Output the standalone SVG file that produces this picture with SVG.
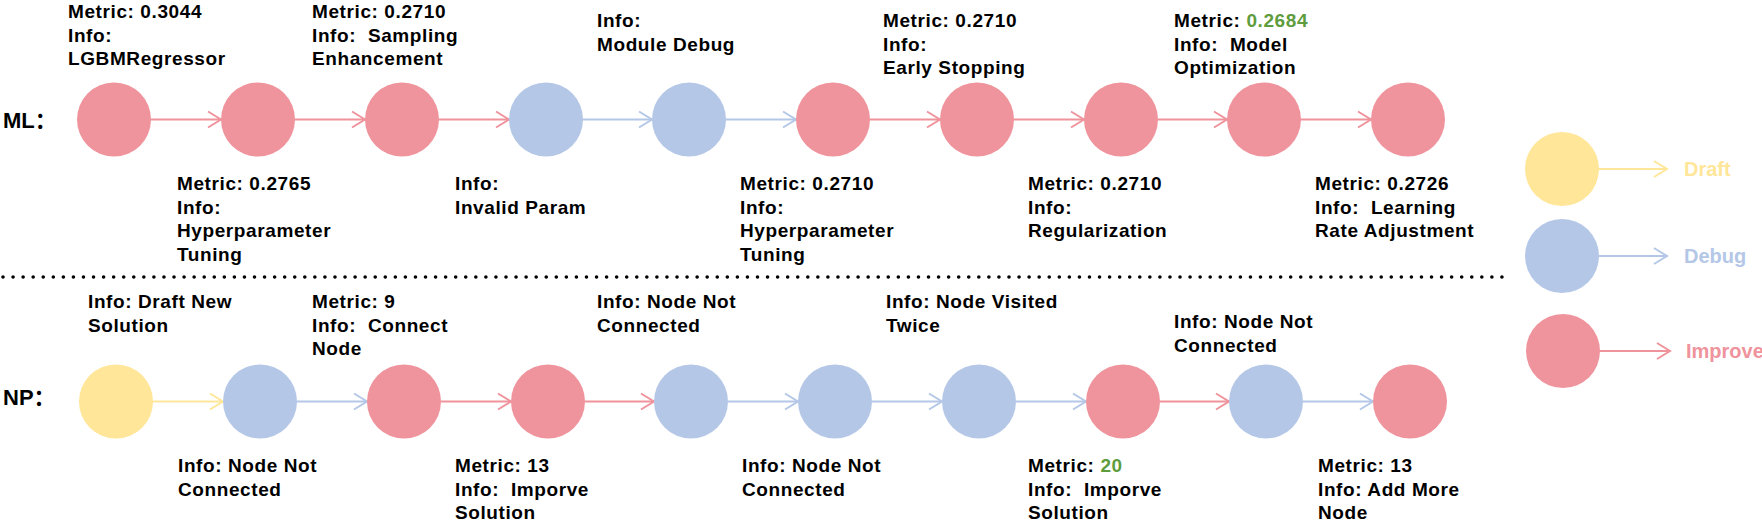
<svg xmlns="http://www.w3.org/2000/svg" width="1762" height="524" viewBox="0 0 1762 524">
<style>
text{font-family:"Liberation Sans",Arial,"Noto Sans CJK SC",sans-serif;font-weight:bold;fill:#000;white-space:pre}
.lbl{font-size:19px;letter-spacing:0.6px}
.row{font-size:22px}
.lg{font-size:20px}
.red{fill:#EF939C}.blue{fill:#B4C7E7}.yel{fill:#FFE699}
.g{fill:#5E9C3D}
.er{stroke:#EF939C;stroke-width:2;fill:none}
.eb{stroke:#B4C7E7;stroke-width:2;fill:none}
.ey{stroke:#FFE699;stroke-width:2;fill:none}
</style>
<defs>
<marker id="ar" markerWidth="16" markerHeight="20" refX="14" refY="10" orient="auto" markerUnits="userSpaceOnUse"><path d="M1,2 L14,10 L1,18" fill="none" stroke="#EF939C" stroke-width="2"/></marker>
<marker id="ab" markerWidth="16" markerHeight="20" refX="14" refY="10" orient="auto" markerUnits="userSpaceOnUse"><path d="M1,2 L14,10 L1,18" fill="none" stroke="#B4C7E7" stroke-width="2"/></marker>
<marker id="ay" markerWidth="16" markerHeight="20" refX="14" refY="10" orient="auto" markerUnits="userSpaceOnUse"><path d="M1,2 L14,10 L1,18" fill="none" stroke="#FFE699" stroke-width="2"/></marker>
</defs>

<text class="row" x="3" y="128">ML：</text>
<text class="row" x="3" y="405">NP：</text>

<line x1="3" y1="277" x2="1512" y2="277" stroke="#000" stroke-width="3.6" stroke-linecap="round" stroke-dasharray="0 10.06"/>

<g id="connectors">
<line class="er" x1="151" y1="119.5" x2="221" y2="119.5" marker-end="url(#ar)"/>
<line class="er" x1="295" y1="119.5" x2="365" y2="119.5" marker-end="url(#ar)"/>
<line class="er" x1="439" y1="119.5" x2="509" y2="119.5" marker-end="url(#ar)"/>
<line class="eb" x1="583" y1="119.5" x2="652" y2="119.5" marker-end="url(#ab)"/>
<line class="eb" x1="726" y1="119.5" x2="796" y2="119.5" marker-end="url(#ab)"/>
<line class="er" x1="870" y1="119.5" x2="940" y2="119.5" marker-end="url(#ar)"/>
<line class="er" x1="1014" y1="119.5" x2="1084" y2="119.5" marker-end="url(#ar)"/>
<line class="er" x1="1158" y1="119.5" x2="1227" y2="119.5" marker-end="url(#ar)"/>
<line class="er" x1="1301" y1="119.5" x2="1371" y2="119.5" marker-end="url(#ar)"/>

<line class="ey" x1="153" y1="401.5" x2="223" y2="401.5" marker-end="url(#ay)"/>
<line class="eb" x1="297" y1="401.5" x2="367" y2="401.5" marker-end="url(#ab)"/>
<line class="er" x1="441" y1="401.5" x2="511" y2="401.5" marker-end="url(#ar)"/>
<line class="er" x1="585" y1="401.5" x2="654" y2="401.5" marker-end="url(#ar)"/>
<line class="eb" x1="728" y1="401.5" x2="798" y2="401.5" marker-end="url(#ab)"/>
<line class="eb" x1="872" y1="401.5" x2="942" y2="401.5" marker-end="url(#ab)"/>
<line class="eb" x1="1016" y1="401.5" x2="1086" y2="401.5" marker-end="url(#ab)"/>
<line class="er" x1="1160" y1="401.5" x2="1229" y2="401.5" marker-end="url(#ar)"/>
<line class="eb" x1="1303" y1="401.5" x2="1373" y2="401.5" marker-end="url(#ab)"/>
</g>

<g id="ml0"><circle class="red" cx="114" cy="119.5" r="37"/>
<text class="lbl" x="68" y="18"><tspan x="68">Metric: 0.3044</tspan><tspan x="68" dy="23.5">Info:</tspan><tspan x="68" dy="23.5">LGBMRegressor</tspan></text></g>
<g id="ml1"><circle class="red" cx="258" cy="119.5" r="37"/>
<text class="lbl" x="177" y="190"><tspan x="177">Metric: 0.2765</tspan><tspan x="177" dy="23.5">Info:</tspan><tspan x="177" dy="23.5">Hyperparameter</tspan><tspan x="177" dy="23.5">Tuning</tspan></text></g>
<g id="ml2"><circle class="red" cx="402" cy="119.5" r="37"/>
<text class="lbl" x="312" y="18"><tspan x="312">Metric: 0.2710</tspan><tspan x="312" dy="23.5">Info:  Sampling</tspan><tspan x="312" dy="23.5">Enhancement</tspan></text></g>
<g id="ml3"><circle class="blue" cx="546" cy="119.5" r="37"/>
<text class="lbl" x="455" y="190"><tspan x="455">Info:</tspan><tspan x="455" dy="23.5">Invalid Param</tspan></text></g>
<g id="ml4"><circle class="blue" cx="689" cy="119.5" r="37"/>
<text class="lbl" x="597" y="27"><tspan x="597">Info:</tspan><tspan x="597" dy="23.5">Module Debug</tspan></text></g>
<g id="ml5"><circle class="red" cx="833" cy="119.5" r="37"/>
<text class="lbl" x="740" y="190"><tspan x="740">Metric: 0.2710</tspan><tspan x="740" dy="23.5">Info:</tspan><tspan x="740" dy="23.5">Hyperparameter</tspan><tspan x="740" dy="23.5">Tuning</tspan></text></g>
<g id="ml6"><circle class="red" cx="977" cy="119.5" r="37"/>
<text class="lbl" x="883" y="27"><tspan x="883">Metric: 0.2710</tspan><tspan x="883" dy="23.5">Info:</tspan><tspan x="883" dy="23.5">Early Stopping</tspan></text></g>
<g id="ml7"><circle class="red" cx="1121" cy="119.5" r="37"/>
<text class="lbl" x="1028" y="190"><tspan x="1028">Metric: 0.2710</tspan><tspan x="1028" dy="23.5">Info:</tspan><tspan x="1028" dy="23.5">Regularization</tspan></text></g>
<g id="ml8"><circle class="red" cx="1264" cy="119.5" r="37"/>
<text class="lbl" x="1174" y="27"><tspan x="1174">Metric: <tspan class="g">0.2684</tspan></tspan><tspan x="1174" dy="23.5">Info:  Model</tspan><tspan x="1174" dy="23.5">Optimization</tspan></text></g>
<g id="ml9"><circle class="red" cx="1408" cy="119.5" r="37"/>
<text class="lbl" x="1315" y="190"><tspan x="1315">Metric: 0.2726</tspan><tspan x="1315" dy="23.5">Info:  Learning</tspan><tspan x="1315" dy="23.5">Rate Adjustment</tspan></text></g>

<g id="np0"><circle class="yel" cx="116" cy="401.5" r="37"/>
<text class="lbl" x="88" y="308"><tspan x="88">Info: Draft New</tspan><tspan x="88" dy="23.5">Solution</tspan></text></g>
<g id="np1"><circle class="blue" cx="260" cy="401.5" r="37"/>
<text class="lbl" x="178" y="472"><tspan x="178">Info: Node Not</tspan><tspan x="178" dy="23.5">Connected</tspan></text></g>
<g id="np2"><circle class="red" cx="404" cy="401.5" r="37"/>
<text class="lbl" x="312" y="308"><tspan x="312">Metric: 9</tspan><tspan x="312" dy="23.5">Info:  Connect</tspan><tspan x="312" dy="23.5">Node</tspan></text></g>
<g id="np3"><circle class="red" cx="548" cy="401.5" r="37"/>
<text class="lbl" x="455" y="472"><tspan x="455">Metric: 13</tspan><tspan x="455" dy="23.5">Info:  Imporve</tspan><tspan x="455" dy="23.5">Solution</tspan></text></g>
<g id="np4"><circle class="blue" cx="691" cy="401.5" r="37"/>
<text class="lbl" x="597" y="308"><tspan x="597">Info: Node Not</tspan><tspan x="597" dy="23.5">Connected</tspan></text></g>
<g id="np5"><circle class="blue" cx="835" cy="401.5" r="37"/>
<text class="lbl" x="742" y="472"><tspan x="742">Info: Node Not</tspan><tspan x="742" dy="23.5">Connected</tspan></text></g>
<g id="np6"><circle class="blue" cx="979" cy="401.5" r="37"/>
<text class="lbl" x="886" y="308"><tspan x="886">Info: Node Visited</tspan><tspan x="886" dy="23.5">Twice</tspan></text></g>
<g id="np7"><circle class="red" cx="1123" cy="401.5" r="37"/>
<text class="lbl" x="1028" y="472"><tspan x="1028">Metric: <tspan class="g">20</tspan></tspan><tspan x="1028" dy="23.5">Info:  Imporve</tspan><tspan x="1028" dy="23.5">Solution</tspan></text></g>
<g id="np8"><circle class="blue" cx="1266" cy="401.5" r="37"/>
<text class="lbl" x="1174" y="328"><tspan x="1174">Info: Node Not</tspan><tspan x="1174" dy="23.5">Connected</tspan></text></g>
<g id="np9"><circle class="red" cx="1410" cy="401.5" r="37"/>
<text class="lbl" x="1318" y="472"><tspan x="1318">Metric: 13</tspan><tspan x="1318" dy="23.5">Info: Add More</tspan><tspan x="1318" dy="23.5">Node</tspan></text></g>

<g id="legend">
<g id="legend-draft"><circle class="yel" cx="1562" cy="169" r="37"/>
<line class="ey" x1="1599" y1="169" x2="1667" y2="169" marker-end="url(#ay)"/>
<text class="lg yel" x="1684" y="176">Draft</text></g>
<g id="legend-debug"><circle class="blue" cx="1562" cy="256" r="37"/>
<line class="eb" x1="1599" y1="256" x2="1667" y2="256" marker-end="url(#ab)"/>
<text class="lg blue" x="1684" y="263">Debug</text></g>
<g id="legend-improve"><circle class="red" cx="1563" cy="351" r="37"/>
<line class="er" x1="1600" y1="351" x2="1670" y2="351" marker-end="url(#ar)"/>
<text class="lg red" x="1686" y="358">Improve</text></g>
</g>
</svg>
